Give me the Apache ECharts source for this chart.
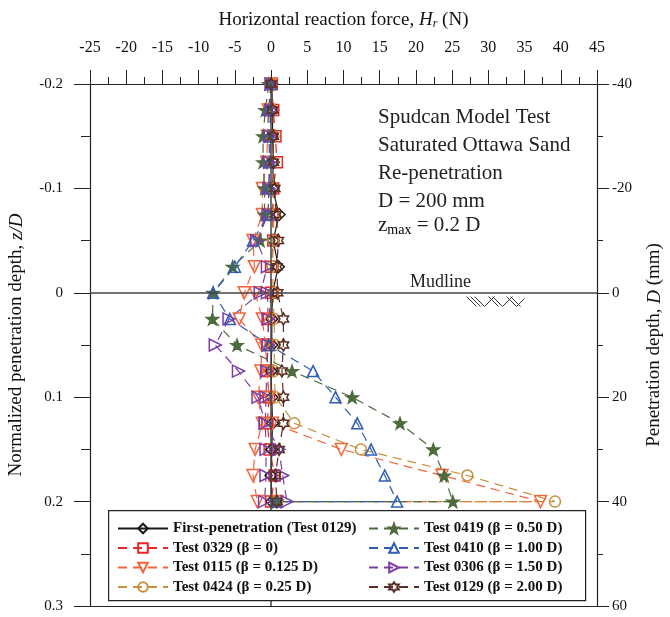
<!DOCTYPE html>
<html>
<head>
<meta charset="utf-8">
<script src="https://cdn.jsdelivr.net/npm/echarts@6/dist/echarts.min.js"></script>
<style>
  html, body { margin: 0; padding: 0; background: #fff; }
  #chart { width: 670px; height: 617px; }
</style>
</head>
<body>
<div id="chart"></div>
<script>
// normalized depth z/D for each reading
const depth = [-0.2, -0.175, -0.15, -0.125, -0.1, -0.075, -0.05, -0.025, 0,
  0.025, 0.05, 0.075, 0.1, 0.125, 0.15, 0.175, 0.2];

// horizontal reaction force Hr (N) at each depth
const firstPen = [0.1, 0.2, 0.2, 0.3, 0.2, 1.1, 0.3, 1.0, 0.2, 0.1, 0.1, 0.0, 0.1, 0.2, 0.1, 0.0, 0.1];
const t0329 = [0.1, 0.3, 0.6, 0.8, 0.3, 0.2, 0.3, 0.0, 0.0, -0.3, -0.5, -0.5, -0.3, -0.5, -0.2, 0.5, 0.0];
const t0115 = [0.0, -0.4, -0.5, -0.6, -1.2, -1.2, -2.5, -2.3, -3.7, -4.4, -1.3, -1.4, -1.8, -1.2, -2.2, -2.5, -1.9];
const t0115b = [null, null, null, null, null, null, null, null, -2.2, -1.2, -0.8, -0.5, -0.3, 0.2, 9.7, 23.6, 37.2];
const t0424 = [0.0, 0.2, 0.3, 0.2, 0.3, 0.4, 0.3, 0.2, 0.3, 0.4, 0.5, 0.4, 0.6, 3.2, 12.4, 27.1, 39.2];
const t0419 = [-0.3, -0.8, -1.1, -1.1, -0.9, -0.9, -1.5, -5.3, -8.0, -8.1, -4.7, 2.9, 11.2, 17.8, 22.4, 23.9, 25.1];
const t0410 = [0.0, -0.3, -0.3, -0.2, -0.3, -0.4, -2.5, -5.0, -8.0, -5.7, -0.3, 5.8, 8.9, 11.9, 13.8, 15.7, 17.4];
const t0306 = [0.0, 0.0, -0.1, -0.2, -0.3, -0.4, -2.0, -0.5, -1.5, -5.8, -7.7, -4.5, -1.8, -0.8, 1.1, 1.6, 2.2];
const t0306b = [null, null, null, null, null, null, null, null, -0.5, -0.4, -0.4, -0.6, -0.7, -0.8, -0.7, -0.7, -0.9];
const t0129 = [0.0, 0.2, 0.3, 0.3, 0.5, 0.7, 1.0, 0.8, 0.9, 1.7, 1.7, 1.5, 1.7, 1.7, 1.1, 0.6, 0.8];
// force after unloading at z max (last reading of the big tracks)
const unloadH = 0.8;

const xTicks = [-25, 45, 5];      // min, max, interval of Hr axis
const zTicks = [-0.2, 0.3, 0.1];  // z/D axis
const dTicks = [-40, 60, 20];     // D (mm) axis

const FONT = 'Liberation Serif';
const STAR = 'path://M0,-10 L2.35,-3.24 L9.51,-3.09 L3.8,1.24 L5.88,8.09 L0,4 L-5.88,8.09 L-3.8,1.24 L-9.51,-3.09 L-2.35,-3.24 Z';
const HEXA = 'path://M0,-10 L2.89,-5 L8.66,-5 L5.77,0 L8.66,5 L2.89,5 L0,10 L-2.89,5 L-8.66,5 L-5.77,0 L-8.66,-5 L-2.89,-5 Z';

const pairs = (vals, end) => {
  const out = [];
  vals.forEach((v, i) => { if (v !== null) out.push([v, depth[i]]); });
  if (end !== undefined) out.push([end, depth[depth.length - 1]]);
  return out;
};

const mk = (name, vals, color, symbol, opts = {}) => ({
  name: name,
  type: 'line',
  data: pairs(vals, opts.end),
  symbol: symbol,
  symbolSize: opts.size || 11,
  symbolRotate: opts.rotate || 0,
  symbolKeepAspect: true,
  showSymbol: true,
  itemStyle: { color: opts.fill || 'rgba(255,255,255,0)', borderColor: color, borderWidth: 1.5 },
  lineStyle: { color: color, width: 1.2, type: opts.solid ? 'solid' : [9, 6] },
  emphasis: { disabled: true },
  silent: true
});

const names = [
  'First-penetration (Test 0129)',
  'Test 0329 (β = 0)',
  'Test 0115 (β = 0.125 D)',
  'Test 0424 (β = 0.25 D)',
  'Test 0419 (β = 0.50 D)',
  'Test 0410 (β = 1.00 D)',
  'Test 0306 (β = 1.50 D)',
  'Test 0129 (β = 2.00 D)'
];

const series = [
  {
    type: 'line', data: [], silent: true,
    markLine: {
      silent: true, symbol: 'none', label: { show: false },
      lineStyle: { color: '#444', width: 1.5, type: 'solid' },
      data: [{ yAxis: 0 }, { xAxis: 0 }]
    }
  },
  mk(names[0], firstPen, '#1a1a1a', 'diamond', { solid: true, size: 12 }),
  mk(names[1], t0329, '#e8262a', 'rect', { size: 11 }),
  mk(names[2], t0115, '#f4643a', 'triangle', { rotate: 180, size: 12 }),
  mk(names[2], t0115b, '#f4643a', 'triangle', { rotate: 180, size: 12, end: unloadH }),
  mk(names[3], t0424, '#c8913c', 'circle', { size: 11, end: unloadH }),
  mk(names[4], t0419, '#4d6b3c', STAR, { size: 12, fill: '#4d6b3c', end: unloadH }),
  mk(names[5], t0410, '#2e5db5', 'triangle', { size: 11, end: unloadH }),
  mk(names[6], t0306, '#7a3ea6', 'triangle', { rotate: -90, size: 12 }),
  mk(names[6], t0306b, '#7a3ea6', 'triangle', { rotate: -90, size: 12 }),
  mk(names[7], t0129, '#5b2d24', HEXA, { size: 12 })
];

const fmt1 = v => String(Math.round(v * 10) / 10);

const legendBase = {
  orient: 'vertical',
  top: 521,
  padding: 0,
  itemGap: 4.5,
  itemWidth: 50, itemHeight: 12,
  selectedMode: false,
  zlevel: 1, z: 10,
  textStyle: { fontFamily: FONT, fontSize: 15, fontWeight: 'bold', color: '#111' }
};

const chart = echarts.init(document.getElementById('chart'), null, { renderer: 'canvas' });
chart.setOption({
  animation: false,
  textStyle: { fontFamily: FONT },
  grid: { left: 90, right: 73, top: 84, bottom: 11, outerBoundsMode: 'none', containLabel: false },
  xAxis: [
    {
      type: 'value', position: 'top',
      min: xTicks[0], max: xTicks[1], interval: xTicks[2],
      name: '{n|Horizontal reaction force, }{i|H}{s|r}{n| (N)}',
      nameLocation: 'middle', nameGap: 54,
      nameTextStyle: {
        rich: {
          n: { fontFamily: FONT, fontSize: 19, color: '#111' },
          i: { fontFamily: FONT, fontSize: 19, fontStyle: 'italic', color: '#111' },
          s: { fontFamily: FONT, fontSize: 12, fontStyle: 'italic', color: '#111', verticalAlign: 'bottom', padding: [8, 0, 0, 0] }
        }
      },
      axisLine: { show: true, onZero: false, lineStyle: { color: '#222', width: 1.2 } },
      axisTick: { show: true, inside: false, length: 14, lineStyle: { color: '#222' } },
      minorTick: { show: true, splitNumber: 2, length: 7, lineStyle: { color: '#222' } },
      axisLabel: { fontFamily: FONT, fontSize: 16, color: '#111', margin: 28 },
      splitLine: { show: false }
    },
    {
      type: 'value', position: 'bottom',
      min: xTicks[0], max: xTicks[1],
      axisLine: { show: true, onZero: false, lineStyle: { color: '#222', width: 1.2 } },
      axisTick: { show: false }, axisLabel: { show: false }, splitLine: { show: false }
    }
  ],
  yAxis: [
    {
      type: 'value', inverse: true, position: 'left',
      min: zTicks[0], max: zTicks[1], interval: zTicks[2],
      name: '{n|Normalized penetration depth, }{i|z/D}',
      nameLocation: 'middle', nameGap: 64,
      nameTextStyle: {
        rich: {
          n: { fontFamily: FONT, fontSize: 19, color: '#111' },
          i: { fontFamily: FONT, fontSize: 19, fontStyle: 'italic', color: '#111' }
        }
      },
      axisLine: { show: true, onZero: false, lineStyle: { color: '#222', width: 1.2 } },
      axisTick: { show: true, inside: false, length: 16, lineStyle: { color: '#222' } },
      minorTick: { show: true, splitNumber: 2, length: 9, lineStyle: { color: '#222' } },
      axisLabel: { fontFamily: FONT, fontSize: 15, color: '#111', margin: 27, formatter: fmt1 },
      splitLine: { show: false }
    },
    {
      type: 'value', inverse: true, position: 'right',
      min: dTicks[0], max: dTicks[1], interval: dTicks[2],
      name: '{n|Penetration depth, }{i|D}{n| (mm)}',
      nameLocation: 'middle', nameGap: 48,
      nameTextStyle: {
        rich: {
          n: { fontFamily: FONT, fontSize: 19, color: '#111' },
          i: { fontFamily: FONT, fontSize: 19, fontStyle: 'italic', color: '#111' }
        }
      },
      axisLine: { show: true, onZero: false, lineStyle: { color: '#222', width: 1.2 } },
      axisTick: { show: true, inside: false, length: 12, lineStyle: { color: '#222' } },
      minorTick: { show: true, splitNumber: 2, length: 6, lineStyle: { color: '#222' } },
      axisLabel: { fontFamily: FONT, fontSize: 15, color: '#111', margin: 15 },
      splitLine: { show: false }
    }
  ],
  legend: [
    Object.assign({}, legendBase, { data: names.slice(0, 4), left: 117 }),
    Object.assign({}, legendBase, { data: names.slice(4), left: 368 })
  ],
  graphic: [
    {
      type: 'rect', left: 108, top: 510, zlevel: 1, z: 1, silent: true,
      shape: { width: 477, height: 90 },
      style: { fill: '#fff', stroke: '#222', lineWidth: 1.2 }
    },
    {
      type: 'text', left: 378, top: 103, silent: true,
      style: {
        text: 'Spudcan Model Test\nSaturated Ottawa Sand\nRe-penetration\nD = 200 mm',
        font: '21px "Liberation Serif"', fill: '#222', lineHeight: 28
      }
    },
    {
      type: 'text', left: 378, top: 215, silent: true,
      style: {
        text: '{a|z}{b|max}{a| = 0.2 D}',
        rich: {
          a: { fontFamily: FONT, fontSize: 21, fill: '#222', color: '#222' },
          b: { fontFamily: FONT, fontSize: 14, color: '#222', padding: [10, 0, 0, 0] }
        }
      }
    },
    {
      type: 'text', left: 410, top: 273, silent: true,
      style: { text: 'Mudline', font: '18px "Liberation Serif"', fill: '#222' }
    },
    {
      type: 'group', left: 464, top: 294, silent: true,
      children: [
        { type: 'line', shape: { x1: 0, y1: 0, x2: 10, y2: 10 }, style: { stroke: '#333', lineWidth: 1 } },
        { type: 'line', shape: { x1: 4, y1: 0, x2: 14, y2: 10 }, style: { stroke: '#333', lineWidth: 1 } },
        { type: 'line', shape: { x1: 8, y1: 0, x2: 18, y2: 10 }, style: { stroke: '#333', lineWidth: 1 } },
        { type: 'line', shape: { x1: 18, y1: 10, x2: 28, y2: 0 }, style: { stroke: '#333', lineWidth: 1 } },
        { type: 'line', shape: { x1: 22, y1: 0, x2: 32, y2: 10 }, style: { stroke: '#333', lineWidth: 1 } },
        { type: 'line', shape: { x1: 26, y1: 0, x2: 36, y2: 10 }, style: { stroke: '#333', lineWidth: 1 } },
        { type: 'line', shape: { x1: 36, y1: 10, x2: 46, y2: 0 }, style: { stroke: '#333', lineWidth: 1 } },
        { type: 'line', shape: { x1: 40, y1: 0, x2: 50, y2: 10 }, style: { stroke: '#333', lineWidth: 1 } },
        { type: 'line', shape: { x1: 44, y1: 0, x2: 54, y2: 10 }, style: { stroke: '#333', lineWidth: 1 } },
        { type: 'line', shape: { x1: 50, y1: 10, x2: 58, y2: 2 }, style: { stroke: '#333', lineWidth: 1 } }
      ]
    }
  ],
  series: series
});
</script>
</body>
</html>
